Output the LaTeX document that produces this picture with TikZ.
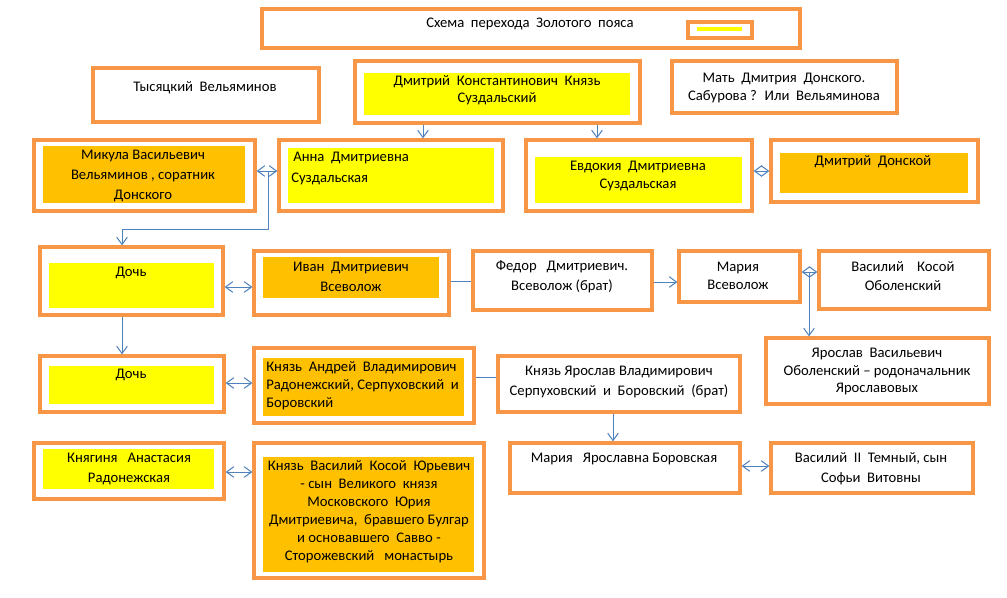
\documentclass[tikz,border=0pt]{standalone}
\usepackage{fontspec}
\setmainfont{Carlito}
\usetikzlibrary{arrows.meta,fit}
\definecolor{borderor}{HTML}{F79646}
\definecolor{fillyel}{HTML}{FFFF00}
\definecolor{fillor}{HTML}{FFC000}
\definecolor{arrowblue}{HTML}{4F81BD}
\begin{document}
\begin{tikzpicture}[x=0.75pt,y=-0.75pt,
  outer/.style={draw=borderor, line width=2.5pt, inner sep=0pt, fill=white},
  yin/.style={fill=fillyel, inner sep=0pt},
  oin/.style={fill=fillor, inner sep=0pt},
  txt/.style={inner sep=0pt, align=center, text=black, font=\fontsize{11pt}{#1pt}\selectfont},
  txt/.default=15,
  ltxt/.style={inner sep=0pt, align=left, anchor=west, text=black, font=\fontsize{11pt}{#1pt}\selectfont},
  ltxt/.default=15,
  tip/.style={Straight Barb[length=5.5pt,width=8pt]},
  arr/.style={draw=arrowblue, line width=0.75pt, -{Straight Barb[length=5.5pt,width=8pt]}},
  darr/.style={draw=arrowblue, line width=0.75pt, {Straight Barb[length=5.5pt,width=8pt]}-{Straight Barb[length=5.5pt,width=8pt]}},
  ln/.style={draw=arrowblue, line width=0.75pt}
]
\path[use as bounding box, fill=white] (0,0) rectangle (1007,597);

% ---------- boxes ----------
\node[outer, fit={(262,9)(800,48)}] (title) {};
\node[outer, fit={(688,22)(752,38)}] (legend) {};
\draw[fillyel, line width=2.4pt] (697,29) -- (742,29);

\node[outer, fit={(93,68)(319,122)}] (tys) {};
\node[outer, fit={(355,61)(640,123)}] (dk) {};
\node[yin, fit={(364,73)(630,115)}] (dkin) {};
\node[outer, fit={(672,61)(897,113)}] (mat) {};

\node[outer, fit={(34,140)(255,211)}] (mik) {};
\node[oin, fit={(43,146)(245,203)}] (mikin) {};
\node[outer, fit={(279,140)(503,211)}] (anna) {};
\node[yin, fit={(288,148)(494,203)}] (annain) {};
\node[outer, fit={(526,140)(752,211)}] (evd) {};
\node[yin, fit={(535,157)(742,203)}] (evdin) {};
\node[outer, fit={(771,140)(978,202)}] (don) {};
\node[oin, fit={(780,153)(968,193)}] (donin) {};

\node[outer, fit={(40,247)(223,315)}] (doch1) {};
\node[yin, fit={(49,263)(214,308)}] (doch1in) {};
\node[outer, fit={(254,251)(449,315)}] (ivan) {};
\node[oin, fit={(263,257)(439,298)}] (ivanin) {};
\node[outer, fit={(473,251)(652,310)}] (fed) {};
\node[outer, fit={(679,251)(800,302)}] (mar) {};
\node[outer, fit={(819,251)(989,309)}] (vas) {};
\node[outer, fit={(766,338)(989,404)}] (yar) {};

\node[outer, fit={(40,356)(224,412)}] (doch2) {};
\node[yin, fit={(49,366)(214,404)}] (doch2in) {};
\node[outer, fit={(254,348)(474,423)}] (andr) {};
\node[oin, fit={(263,358)(464,416)}] (andrin) {};
\node[outer, fit={(498,356)(740,412)}] (knyar) {};

\node[outer, fit={(34,443)(224,499)}] (knyag) {};
\node[yin, fit={(43,449)(214,489)}] (knyagin) {};
\node[outer, fit={(254,443)(484,578)}] (vky) {};
\node[oin, fit={(263,457)(474,572)}] (vkyin) {};
\node[outer, fit={(510,443)(740,493)}] (marya) {};
\node[outer, fit={(771,443)(973,493)}] (vas2) {};

% ---------- texts ----------
\node[txt] (ttitle) at (530,24) {Схема~ перехода~ Золотого~ пояса};
\node[txt] (ttys) at (205,88) {Тысяцкий~ Вельяминов};
\node[txt=12.75] (tdk) at (497,90.5) {Дмитрий~ Константинович~ Князь\\Суздальский};
\node[txt=13.5] (tmat) at (784,88) {Мать~ Дмитрия~ Донского.\\Сабурова ?~ Или~ Вельяминова};
\node[txt] (tmik) at (143,176) {Микула Васильевич\\Вельяминов , соратник\\Донского};
\node[ltxt=15.75] (tanna) at (291,168.5) {\hspace{1.5pt}Анна~ Дмитриевна\\Суздальская};
\node[txt=13.5] (tevd) at (638,176) {Евдокия~ Дмитриевна\\Суздальская};
\node[txt] (tdon) at (873,162) {Дмитрий~ Донской};
\node[txt] (tdoch1) at (131,273) {Дочь};
\node[txt] (tivan) at (351,277) {Иван~ Дмитриевич\\Всеволож};
\node[txt] (tfed) at (562,277) {Федор~~ Дмитриевич.\\Всеволож (брат)};
\node[txt=13.5] (tmar) at (738,276) {Мария\\Всеволож};
\node[txt=14.25] (tvas) at (903,276.5) {Василий~~~ Косой\\Оболенский};
\node[txt=13.125] (tyar) at (877,371.5) {Ярослав~ Васильевич\\Оболенский – родоначальник\\Ярославовых};
\node[txt] (tdoch2) at (131,375) {Дочь};
\node[ltxt=13.5] (tandr) at (266,386) {Князь~ Андрей~ Владимирович\\Радонежский, Серпуховский~ и\\Боровский};
\node[txt] (tknyar) at (619,382) {Князь Ярослав Владимирович\\Серпуховский~ и~ Боровский~ (брат)};
\node[txt] (tknyag) at (129,469) {Княгиня~~ Анастасия\\Радонежская};
\node[txt=13.5] (tvky) at (369,512) {Князь~ Василий~ Косой~ Юрьевич\\- сын~ Великого~ князя\\Московского~ Юрия\\Дмитриевича,~ бравшего Булгар\\и основавшего~ Савво -\\Сторожевский~~ монастырь};
\node[txt] (tmarya) at (624,459) {Мария~~ Ярославна Боровская};
\node[txt] (tvas2) at (871,469) {Василий~ II~ Темный, сын\\Софьи~ Витовны};

% ---------- connectors ----------
\coordinate (j1) at (268,171);
\coordinate (j2) at (809,272);
\draw[arr] (dk.south -| 423,0) -- (anna.north -| 423,0);
\draw[arr] (dk.south -| 597,0) -- (evd.north -| 597,0);
\draw[darr] (mik.east |- 0,171) -- (anna.west |- 0,171);
\draw[arr] (j1) -- (268,229) -- (122,229) -- (doch1.north -| 122,0);
\draw[darr] (evd.east |- 0,171) -- (don.west |- 0,171);
\draw[darr] (doch1.east |- 0,287) -- (ivan.west |- 0,287);
\draw[ln] (ivan.east |- 0,281) -- (fed.west |- 0,281);
\draw[arr] (fed.east |- 0,282) -- (mar.west |- 0,282);
\draw[darr] (mar.east |- 0,272) -- (vas.west |- 0,272);
\draw[arr] (j2) -- (yar.north -| j2);
\draw[arr] (doch1.south -| 122,0) -- (doch2.north -| 122,0);
\draw[darr] (doch2.east |- 0,383) -- (andr.west |- 0,383);
\draw[ln] (andr.east |- 0,377) -- (knyar.west |- 0,377);
\draw[arr] (knyar.south -| 613,0) -- (marya.north -| 613,0);
\draw[darr] (knyag.east |- 0,472) -- (vky.west |- 0,472);
\draw[darr] (marya.east |- 0,466) -- (vas2.west |- 0,466);
\end{tikzpicture}
\end{document}
